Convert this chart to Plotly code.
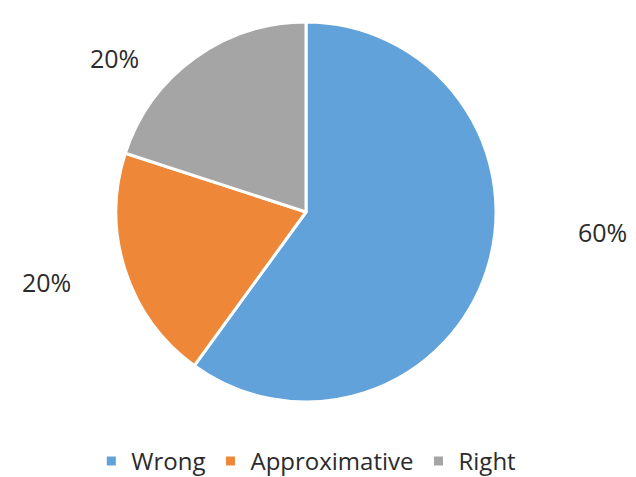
import math
import plotly.graph_objects as go

categories = ["Wrong", "Approximative", "Right"]
values = [60, 20, 20]
colors = ["#62A2DA", "#EE8838", "#A5A5A5"]

# Figure size (page body adds an 8px margin, so the figure is 8px smaller than the window)
W, H = 628, 469
B = 45                      # bottom margin reserved for the legend
PH = H - B                  # plot-area height
cx, cy, R = 298, 204, 190   # pie centre / radius in figure pixels

fig = go.Figure()
fig.add_trace(go.Pie(
    labels=categories,
    values=values,
    sort=False,
    direction="clockwise",
    rotation=0,
    marker=dict(colors=colors, line=dict(color="white", width=3)),
    textinfo="none",
    hoverinfo="label+percent",
    domain=dict(x=[(cx - R) / W, (cx + R) / W], y=[1 - (cy + R) / PH, 1 - (cy - R) / PH]),
))

# Percent labels placed around the pie from each slice's mid-angle
total = sum(values)
shifts = [(34, -65), (3, -15), (-30, 69)]
acc = 0
annotations = []
for v, (sx, sy) in zip(values, shifts):
    mid = (acc + v / 2) / total * 2 * math.pi
    acc += v
    lx = cx + math.sin(mid) * R * 1.45 + sx
    ly = cy - math.cos(mid) * R * 1.45 + sy
    annotations.append(dict(
        x=lx / W, y=1 - ly / PH, xref="paper", yref="paper",
        text=f"{round(v / total * 100)}%", showarrow=False,
        font=dict(family="Open Sans", size=25, color="#2b2b2b"),
        xanchor="center", yanchor="middle",
    ))

fig.update_layout(
    width=W, height=H,
    margin=dict(l=0, r=0, t=0, b=B),
    paper_bgcolor="white",
    plot_bgcolor="white",
    annotations=annotations,
    showlegend=True,
    legend=dict(
        orientation="h", x=0.475, xanchor="center",
        yref="container", y=1 - 453.5 / H, yanchor="middle",
        font=dict(family="Open Sans", size=24, color="#2b2b2b"),
        itemwidth=30,
    ),
)

fig.write_html("out.html")
